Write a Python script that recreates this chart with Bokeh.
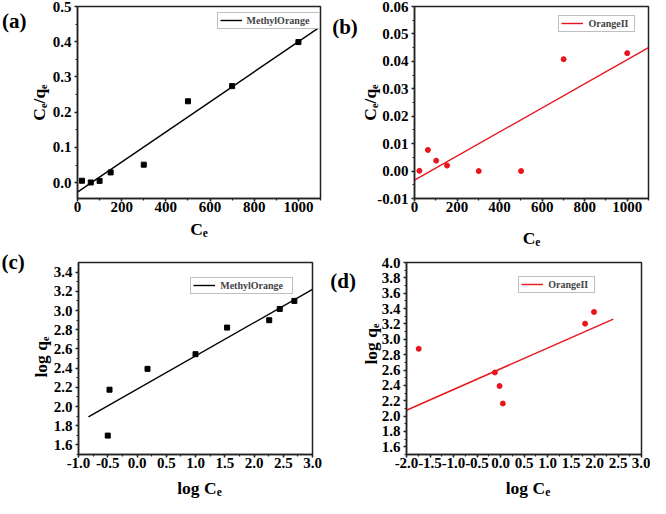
import math
from bokeh.plotting import figure
from bokeh.models import (Range1d, Label, Legend, LegendItem,
                          SingleIntervalTicker, PrintfTickFormatter)
from bokeh.layouts import column, row
from bokeh.embed import file_html
from bokeh.resources import INLINE

# ---------------- data ----------------
a_ce = [20, 60, 100, 150, 300, 500, 700, 1000]
a_ratio = [0.0054, 0.0005, 0.005, 0.029, 0.051, 0.231, 0.274, 0.399]
a_fit_x = [0, 1100]
a_fit_y = [-0.027, 0.443]

b_ce = [23, 63, 102, 153, 302, 501, 701, 1000]
b_ratio = [0.0001, 0.0077, 0.0038, 0.0020, 0.0, 0.0, 0.0408, 0.0430]
b_fit_x = [0, 1100]
b_fit_y = [-0.0033, 0.0450]

c_logce = [-0.50, -0.47, 0.18, 1.00, 1.54, 2.26, 2.44, 2.69]
c_logqe = [1.697, 2.175, 2.392, 2.545, 2.822, 2.899, 3.016, 3.10]
c_fit_x = [-0.83, 3.0]
c_fit_y = [1.891, 3.22]

d_logce = [-1.74, -0.12, -0.02, 0.05, 1.80, 1.99]
d_logqe = [2.876, 2.568, 2.392, 2.164, 3.204, 3.356]
d_fit_x = [-2.0, 2.40]
d_fit_y = [2.076, 3.263]

FONT = "Liberation Serif"
RED = "#e8161c"
W, H = 325, 249

WTAB = {'C': .722, 'e': .444, '/': .278, 'q': .556, 'l': .278,
        'o': .5, 'g': .5, ' ': .25}


def tw(s, size):
    return sum(WTAB[c] for c in s) * size


def make_fig(L, R, T, B, xr, yr, xint, yint, xfmt, yfmt):
    p = figure(width=W, height=H, x_range=Range1d(*xr), y_range=Range1d(*yr),
               output_backend="svg", toolbar_location=None,
               min_border_left=int(round(L)), min_border_right=int(round(W - R)),
               min_border_top=int(round(T)), min_border_bottom=int(round(H - B)),
               background_fill_color="white", border_fill_color="white")
    p.grid.visible = False
    p.outline_line_color = "#222222"
    p.outline_line_width = 1.5
    p.xaxis.ticker = SingleIntervalTicker(interval=xint, num_minor_ticks=2)
    p.yaxis.ticker = SingleIntervalTicker(interval=yint, num_minor_ticks=2)
    p.xaxis.formatter = PrintfTickFormatter(format=xfmt)
    p.yaxis.formatter = PrintfTickFormatter(format=yfmt)
    for ax in (p.xaxis, p.yaxis):
        ax.axis_line_width = 1.5
        ax.axis_line_color = "#222222"
        ax.major_tick_line_width = 1.5
        ax.major_tick_line_color = "#222222"
        ax.minor_tick_line_width = 1.2
        ax.minor_tick_line_color = "#222222"
        ax.major_tick_in = 0
        ax.major_tick_out = 3
        ax.minor_tick_in = 0
        ax.minor_tick_out = 2
        ax.major_label_text_font = FONT
        ax.major_label_text_font_style = "bold"
        ax.major_label_text_font_size = "15px"
        ax.major_label_text_color = "black"
    p.xaxis.major_label_standoff = 0
    p.yaxis.major_label_standoff = 3
    L, R = int(round(L)), W - int(round(W - R))
    T, B = int(round(T)), H - int(round(H - B))
    geom = dict(L=L, R=R, T=T, B=B, xr=xr, yr=yr)
    return p, geom


def dx(g, px):
    return g['xr'][0] + (px - g['L']) / (g['R'] - g['L']) * (g['xr'][1] - g['xr'][0])


def dy(g, py):
    return g['yr'][1] - (py - g['T']) / (g['B'] - g['T']) * (g['yr'][1] - g['yr'][0])


def add_text(p, g, px, py, text, size, angle=0.0, align="left", baseline="alphabetic",
             side="below"):
    # text lives in a side panel (so it is not clipped to the frame) but is
    # positioned through the frame's own scales
    p.add_layout(Label(x=dx(g, px), y=dy(g, py), text=text, angle=angle,
                       text_font=FONT, text_font_style="bold",
                       text_font_size=f"{size}px", text_color="black",
                       text_align=align, text_baseline=baseline), side)


def add_runs(p, g, runs, c, base, main=17.5, sub=11.5, drop=4.5):
    total = sum(tw(t, sub if s else main) for t, s in runs)
    pos = c - total / 2
    for t, s in runs:
        size = sub if s else main
        add_text(p, g, pos, base + (drop if s else 0), t, size, side="below")
        pos += tw(t, size)


def add_legend(p, g, r, label, left_off, top_off, lw, h=20):
    leg = Legend(items=[LegendItem(label=label, renderers=[r])],
                 location=(left_off, (g['B'] - g['T']) - top_off - h))
    leg.border_line_color = "#808080"
    leg.border_line_width = 1
    leg.background_fill_color = "white"
    leg.background_fill_alpha = 1
    leg.label_text_font = FONT
    leg.label_text_font_style = "bold"
    leg.label_text_font_size = "10px"
    leg.glyph_width = 22
    leg.glyph_height = 8
    leg.label_height = 8
    leg.label_width = lw
    leg.label_standoff = 5
    leg.padding = 2
    leg.spacing = 0
    leg.margin = 0
    p.add_layout(leg)


sx, sy = 650 / 666, 498 / 514

# ---------------- (a) ----------------
pa, ga = make_fig(79 * sx, 328 * sx, 6 * sy, 210.5 * sy, (0, 1100), (-0.045, 0.5),
                  200, 0.1, "%d", "%.1f")
ra = pa.line(a_fit_x, a_fit_y, line_color="black", line_width=1.4)
pa.scatter(a_ce, a_ratio, marker="square", size=5, color="black")
add_legend(pa, ga, ra, "MethylOrange", 143 * sx, 9 * sy, 70)
add_text(pa, ga, 13.7, 21.3, "(a)", 21, align="center", baseline="middle", side="left")
add_runs(pa, ga, [("C", False), ("e", True)], (ga['L'] + ga['R']) / 2, 235)
add_text(pa, ga, 38, (ga['T'] + ga['B']) / 2, "C\u2091/q\u2091", 17.5,
         angle=math.pi / 2, align="center", side="left")

# ---------------- (b) ----------------
pb, gb = make_fig(90.7 * sx, 331 * sx, 6 * sy, 204 * sy, (0, 1100), (-0.01, 0.06),
                  200, 0.01, "%d", "%.2f")
rb = pb.line(b_fit_x, b_fit_y, line_color=RED, line_width=1.4)
pb.scatter(b_ce, b_ratio, marker="circle", size=5, color=RED)
add_legend(pb, gb, rb, "OrangeII", 148 * sx, 6 * sy, 44)
add_text(pb, gb, 19.5, 26.2, "(b)", 21, align="center", baseline="middle", side="left")
add_runs(pb, gb, [("C", False), ("e", True)], (gb['L'] + gb['R']) / 2, 237.4)
add_text(pb, gb, 44, (gb['T'] + gb['B']) / 2, "C\u2091/q\u2091", 17.5,
         angle=math.pi / 2, align="center", side="left")

# ---------------- (c) ----------------
pc, gc = make_fig(80 * sx, 319.3 * sx, 13.3 * sy, 211.7 * sy, (-1.0, 3.0), (1.5, 3.5),
                  0.5, 0.2, "%.1f", "%.1f")
rc = pc.line(c_fit_x, c_fit_y, line_color="black", line_width=1.4)
pc.scatter(c_logce, c_logqe, marker="square", size=5, color="black")
add_legend(pc, gc, rc, "MethylOrange", 115 * sx, 12 * sy, 70)
add_text(pc, gc, 12.7, 12.6, "(c)", 21, align="center", baseline="middle", side="left")
add_runs(pc, gc, [("log C", False), ("e", True)], 199, 238.4)
add_text(pc, gc, 40, 107.5, "log q\u2091", 17.5, angle=math.pi / 2, align="center",
         side="left")

# ---------------- (d) ----------------
pd_, gd = make_fig(83.3 * sx, 324 * sx, 13.3 * sy, 211.7 * sy, (-2.0, 3.0), (1.5, 4.0),
                   0.5, 0.2, "%.1f", "%.1f")
rd = pd_.line(d_fit_x, d_fit_y, line_color=RED, line_width=1.4)
pd_.scatter(d_logce, d_logqe, marker="circle", size=5, color=RED)
add_legend(pd_, gd, rd, "OrangeII", 115 * sx, 11 * sy, 44)
add_text(pd_, gd, 17.6, 31, "(d)", 21, align="center", baseline="middle", side="left")
add_runs(pd_, gd, [("log C", False), ("e", True)], 202.5, 238.4)
add_text(pd_, gd, 45, 94.5, "log q\u2091", 17.5, angle=math.pi / 2, align="center",
         side="left")

layout = column(row(pa, pb), row(pc, pd_))
open("out.html", "w").write(file_html(layout, INLINE))
